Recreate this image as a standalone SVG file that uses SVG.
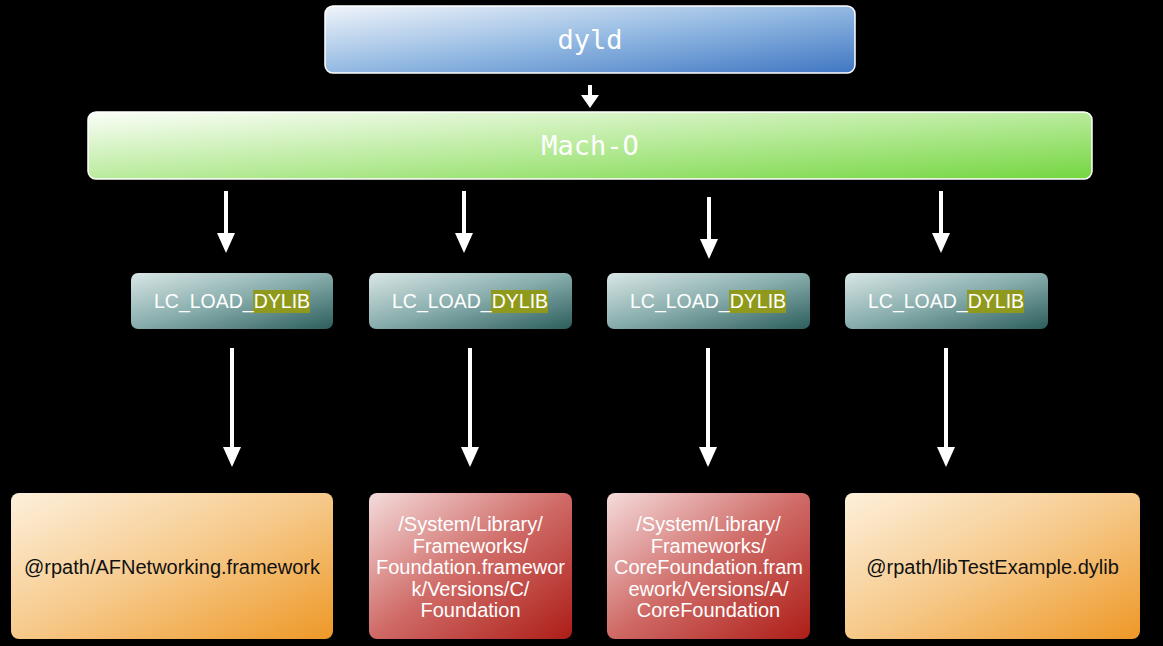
<svg xmlns="http://www.w3.org/2000/svg" width="1163" height="646" viewBox="0 0 1163 646">
<defs>
<linearGradient id="gBlue" x1="0" y1="0" x2="1" y2="1"><stop offset="0" stop-color="#f0f4fa"/><stop offset="0.5" stop-color="#93b9e2"/><stop offset="1" stop-color="#3f76c2"/></linearGradient>
<linearGradient id="gGreen" x1="0" y1="0" x2="1" y2="1"><stop offset="0" stop-color="#fbfef8"/><stop offset="0.5" stop-color="#b9eb9c"/><stop offset="1" stop-color="#74d640"/></linearGradient>
<linearGradient id="gTeal" x1="0" y1="0" x2="1" y2="1"><stop offset="0" stop-color="#d9e6e6"/><stop offset="0.5" stop-color="#86acab"/><stop offset="1" stop-color="#2c5e5c"/></linearGradient>
<linearGradient id="gOrange" x1="0" y1="0" x2="1" y2="1"><stop offset="0" stop-color="#fdf0dc"/><stop offset="0.5" stop-color="#f6c98a"/><stop offset="1" stop-color="#ee9826"/></linearGradient>
<linearGradient id="gRed" x1="0" y1="0" x2="1" y2="1"><stop offset="0" stop-color="#f4dcdc"/><stop offset="0.5" stop-color="#cf6a66"/><stop offset="1" stop-color="#ad1d17"/></linearGradient>
</defs>
<style>
.mono{font-family:"DejaVu Sans Mono",monospace;font-size:27px;fill:#ffffff;text-anchor:middle}
.lc{font-family:"Liberation Sans",Arial,sans-serif;font-size:19.5px;fill:#ffffff}
.t{font-family:"Liberation Sans",Arial,sans-serif;font-size:20px;text-anchor:middle}
.dark{fill:#111111}
.light{fill:#ffffff}
.hl{fill:#8f9a1c}
.arr line{stroke:#ffffff;stroke-width:4}
.arr polygon{fill:#ffffff}
</style>
<rect width="1163" height="646" fill="#000000"/>
<g id="dyld">
<rect x="325" y="6" width="530" height="67" rx="8" fill="url(#gBlue)" stroke="#ffffff" stroke-width="1.5"/>
<text class="mono" x="590" y="49">dyld</text>
</g>
<g id="macho">
<rect x="88" y="112" width="1004" height="67" rx="8" fill="url(#gGreen)" stroke="#ffffff" stroke-width="1.5"/>
<text class="mono" x="590" y="155">Mach-O</text>
</g>
<g id="lc1">
<rect x="131" y="273" width="202" height="56" rx="7" fill="url(#gTeal)"/>
<rect class="hl" x="253" y="290" width="57" height="23"/>
<text class="lc" x="154" y="308">LC_LOAD_DYLIB</text>
</g>
<g id="lc2">
<rect x="369" y="273" width="203" height="56" rx="7" fill="url(#gTeal)"/>
<rect class="hl" x="491" y="290" width="57" height="23"/>
<text class="lc" x="392" y="308">LC_LOAD_DYLIB</text>
</g>
<g id="lc3">
<rect x="607" y="273" width="203" height="56" rx="7" fill="url(#gTeal)"/>
<rect class="hl" x="729" y="290" width="57" height="23"/>
<text class="lc" x="630" y="308">LC_LOAD_DYLIB</text>
</g>
<g id="lc4">
<rect x="845" y="273" width="203" height="56" rx="7" fill="url(#gTeal)"/>
<rect class="hl" x="967" y="290" width="57" height="23"/>
<text class="lc" x="868" y="308">LC_LOAD_DYLIB</text>
</g>
<g id="lib1">
<rect x="11" y="493" width="322" height="146" rx="8" fill="url(#gOrange)"/>
<text class="t dark" x="172" y="574">@rpath/AFNetworking.framework</text>
</g>
<g id="lib2">
<rect x="369" y="493" width="203" height="146" rx="8" fill="url(#gRed)"/>
<text class="t light" x="470.5"><tspan x="470.5" y="531">/System/Library/</tspan><tspan x="470.5" y="552.5">Frameworks/</tspan><tspan x="470.5" y="574">Foundation.framewor</tspan><tspan x="470.5" y="595.5">k/Versions/C/</tspan><tspan x="470.5" y="617">Foundation</tspan></text>
</g>
<g id="lib3">
<rect x="607" y="493" width="203" height="146" rx="8" fill="url(#gRed)"/>
<text class="t light" x="708.5"><tspan x="708.5" y="531">/System/Library/</tspan><tspan x="708.5" y="552.5">Frameworks/</tspan><tspan x="708.5" y="574">CoreFoundation.fram</tspan><tspan x="708.5" y="595.5">ework/Versions/A/</tspan><tspan x="708.5" y="617">CoreFoundation</tspan></text>
</g>
<g id="lib4">
<rect x="845" y="493" width="295" height="146" rx="8" fill="url(#gOrange)"/>
<text class="t dark" x="992.5" y="574">@rpath/libTestExample.dylib</text>
</g>
<g id="connectors" class="arr">
<line x1="590" y1="85" x2="590" y2="96"/><polygon points="581,95 599,95 590,108"/>
<line x1="226" y1="191" x2="226" y2="235"/><polygon points="217,233 235,233 226,253"/>
<line x1="464" y1="191" x2="464" y2="235"/><polygon points="455,233 473,233 464,253"/>
<line x1="709" y1="197" x2="709" y2="241"/><polygon points="700,239 718,239 709,259"/>
<line x1="941" y1="191" x2="941" y2="235"/><polygon points="932,233 950,233 941,253"/>
<line x1="232" y1="348" x2="232" y2="449"/><polygon points="223,447 241,447 232,467"/>
<line x1="470" y1="348" x2="470" y2="449"/><polygon points="461,447 479,447 470,467"/>
<line x1="708" y1="348" x2="708" y2="449"/><polygon points="699,447 717,447 708,467"/>
<line x1="946" y1="348" x2="946" y2="449"/><polygon points="937,447 955,447 946,467"/>
</g>
</svg>
